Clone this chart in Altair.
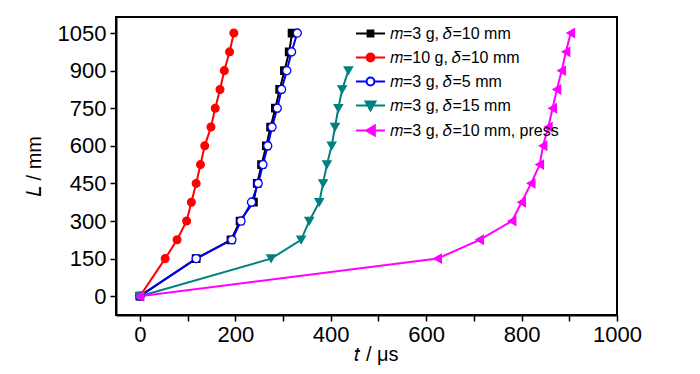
import altair as alt
import pandas as pd

# ---- data ----
series_names = [
    "𝑚=3 g, 𝛿=10 mm",
    "𝑚=10 g, 𝛿=10 mm",
    "𝑚=3 g, 𝛿=5 mm",
    "𝑚=3 g, 𝛿=15 mm",
    "𝑚=3 g, 𝛿=10 mm, press",
]
L_full = [0, 150, 225, 300, 375, 450, 525, 600, 675, 750, 825, 900, 975, 1050]
t_black = [0, 118, 191, 210, 238, 246, 255, 265, 274, 284, 293, 303, 313, 319]
t_red = [0, 53, 78, 98, 108, 118, 127, 136, 149, 158, 168, 177, 188, 197]
t_blue = [0, 118, 193, 212, 234, 248, 258, 268, 277, 288, 297, 308, 318, 330]
L_teal = [0, 150, 225, 300, 375, 450, 525, 600, 675, 750, 825, 900]
t_teal = [0, 275, 338, 355, 376, 384, 392, 402, 409, 416, 424, 437]
t_press = [0, 624, 712, 780, 800, 820, 838, 845, 856, 865, 874, 884, 893, 903]

stroke_colors = ["#000000", "#ff0000", "#0000ff", "#008080", "#ff00ff"]
fill_colors = ["#000000", "#ff0000", "#ffffff", "#008080", "#ff00ff"]
shapes = ["square", "circle", "circle", "triangle-down", "triangle-left"]
sizes = [55, 75, 75, 110, 110]
legend_paths = [
    "M-1,0L1,0M-0.2,-0.2L0.2,-0.2L0.2,0.2L-0.2,0.2Z",
    "M-1,0L1,0M-0.27,0A0.27,0.27 0 1,0 0.27,0A0.27,0.27 0 1,0 -0.27,0Z",
    "M-1,0L-0.27,0M0.27,0L1,0M-0.27,0A0.27,0.27 0 1,0 0.27,0A0.27,0.27 0 1,0 -0.27,0Z",
    "M-1,0L1,0M-0.34,-0.28L0.34,-0.28L0,0.34Z",
    "M-1,0L1,0M-0.3,0L0.3,-0.34L0.3,0.34Z",
]

rows = []
for name, ts, Ls in zip(series_names,
                        [t_black, t_red, t_blue, t_teal, t_press],
                        [L_full, L_full, L_full, L_teal, L_full]):
    for i, (t, L) in enumerate(zip(ts, Ls)):
        rows.append({"t": t, "L": L, "series": name, "idx": i})
df = pd.DataFrame(rows)

TICK_FONT = "Liberation Sans Narrow, Arial Narrow, Liberation Sans"

x_enc = alt.X(
    "t:Q",
    scale=alt.Scale(domain=[-50, 1000], nice=False, zero=False),
    axis=alt.Axis(
        title="𝑡 / μs",
        values=list(range(0, 1001, 100)),
        format="d",
        labelFlush=False,
        labelExpr="datum.value % 200 == 0 ? datum.label : ''",
        titleX=260, titleY=45, titleBaseline="alphabetic", titleAlign="center",
    ),
)
y_enc = alt.Y(
    "L:Q",
    scale=alt.Scale(domain=[-75, 1114], nice=False, zero=False),
    axis=alt.Axis(
        title="𝐿 / mm",
        values=list(range(0, 1051, 150)),
        format="d",
        labelFlush=False,
        titleX=-82, titleY=149, titleBaseline="middle", titleAlign="center", titleAngle=-90,
    ),
)

base = alt.Chart(df)

lines = base.mark_line(strokeWidth=2).encode(
    x=x_enc, y=y_enc,
    color=alt.Color("series:N", scale=alt.Scale(domain=series_names, range=stroke_colors), legend=None),
    order="idx:Q",
    detail="series:N",
)

points = base.mark_point(filled=True, strokeWidth=1.3, opacity=1).encode(
    x=x_enc, y=y_enc,
    shape=alt.Shape("series:N", scale=alt.Scale(domain=series_names, range=shapes), legend=None),
    fill=alt.Fill("series:N", scale=alt.Scale(domain=series_names, range=fill_colors), legend=None),
    stroke=alt.Stroke("series:N", scale=alt.Scale(domain=series_names, range=stroke_colors), legend=None),
    size=alt.Size("series:N", scale=alt.Scale(domain=series_names, range=sizes), legend=None),
)

leg = dict(
    title=None, orient="none", legendX=239, legendY=1, padding=0,
    symbolSize=841, symbolStrokeWidth=2, labelFont="Liberation Sans",
    labelFontSize=16, labelOffset=4, labelColor="#000000", rowPadding=-2,
    symbolOpacity=1,
)

legend_layer = base.transform_filter("datum.L < -5000").mark_point(
    filled=True, size=841, strokeWidth=2, opacity=1
).encode(
    x=x_enc, y=y_enc,
    shape=alt.Shape("series:N", scale=alt.Scale(domain=series_names, range=legend_paths), legend=alt.Legend(**leg)),
    fill=alt.Fill("series:N", scale=alt.Scale(domain=series_names, range=fill_colors), legend=alt.Legend(**leg)),
    stroke=alt.Stroke("series:N", scale=alt.Scale(domain=series_names, range=stroke_colors), legend=alt.Legend(**leg)),
)

chart = alt.layer(lines, points, legend_layer).resolve_scale(
    shape="independent", fill="independent", stroke="independent", color="independent"
).properties(
    width=501, height=298,
    background="#ffffff",
    autosize=alt.AutoSizeParams(type="none"),
    padding={"left": 108, "top": 9, "right": 75, "bottom": 51},
).configure_view(
    stroke="#000000", strokeWidth=2
).configure_axis(
    grid=False,
    domainColor="#000000", domainWidth=2,
    tickColor="#000000", tickWidth=1.5, tickSize=6,
    labelFont=TICK_FONT, labelFontSize=22, labelColor="#000000", labelPadding=3,
    titleFont="Liberation Sans", titleFontSize=20, titleFontWeight="normal", titleColor="#000000",
).configure_axisY(
    labelPadding=4,
).configure_legend(
    labelFont="Liberation Sans", labelFontSize=16, symbolSize=841, symbolStrokeWidth=2,
    labelColor="#000000", rowPadding=-2, padding=0, labelLimit=300,
)

chart.save("out.html", embed_options={"renderer": "svg", "actions": False})
